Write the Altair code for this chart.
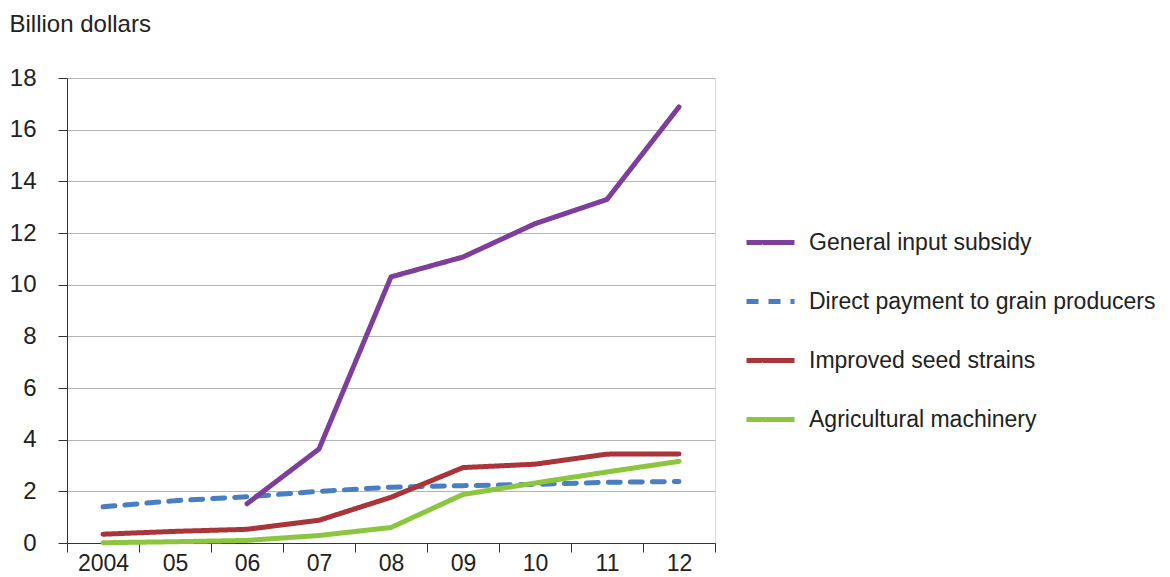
import altair as alt
import pandas as pd

years = ["2004", "05", "06", "07", "08", "09", "10", "11", "12"]
series_names = [
    "General input subsidy",
    "Direct payment to grain producers",
    "Improved seed strains",
    "Agricultural machinery",
]
general_input = [None, None, 1.52, 3.64, 10.30, 11.07, 12.36, 13.30, 16.88]
direct_payment = [1.40, 1.64, 1.79, 2.00, 2.16, 2.22, 2.27, 2.35, 2.38]
improved_seed = [0.34, 0.45, 0.53, 0.88, 1.77, 2.92, 3.05, 3.44, 3.45]
machinery = [0.01, 0.05, 0.10, 0.29, 0.60, 1.88, 2.32, 2.75, 3.16]
colors = ["#7D3F9B", "#4A7EC2", "#A9343A", "#8CC63F"]

# draw order: blue first (underneath), then red, green, purple
draw_order = [
    ("Direct payment to grain producers", direct_payment),
    ("Improved seed strains", improved_seed),
    ("Agricultural machinery", machinery),
    ("General input subsidy", general_input),
]
rows = []
for name, vals in draw_order:
    for y, v in zip(years, vals):
        if v is not None:
            rows.append({"year": y, "value": v, "series": name})
df = pd.DataFrame(rows)

FONT = "Liberation Sans"
FS = 24

legend_cfg = dict(
    title=None,
    orient="none",
    legendX=677,
    legendY=138,
    symbolType="stroke",
    symbolSize=2304,
    symbolStrokeWidth=5,
    labelFontSize=23,
    labelFont=FONT,
    labelColor="#222222",
    labelOffset=12,
    rowPadding=20,
    labelLimit=500,
)

chart = alt.Chart(df).mark_line(strokeWidth=5, strokeCap="round", strokeJoin="round").encode(
    x=alt.X(
        "year:N",
        sort=years,
        scale=alt.Scale(domain=years, paddingInner=0, paddingOuter=0),
        axis=alt.Axis(
            title=None,
            labelAngle=0,
            tickBand="extent",
            ticks=True,
            tickSize=9,
            tickColor="#333333",
            domainColor="#333333",
            labelFontSize=23,
            labelColor="#222222",
            labelPadding=0,
            labelFont=FONT,
            grid=False,
        ),
    ),
    y=alt.Y(
        "value:Q",
        scale=alt.Scale(domain=[0, 18], nice=False),
        axis=alt.Axis(
            title="Billion dollars",
            titleAngle=0,
            titleAlign="left",
            titleBaseline="middle",
            titleX=-58,
            titleY=-54,
            titleFont=FONT,
            titleFontSize=FS,
            titleFontWeight="normal",
            titleColor="#222222",
            values=list(range(0, 19, 2)),
            tickSize=9,
            tickColor="#333333",
            domainColor="#333333",
            labelFontSize=FS,
            labelColor="#222222",
            labelPadding=22,
            labelFont=FONT,
            grid=True,
            gridColor="#b5b5b5",
            gridWidth=1,
        ),
    ),
    color=alt.Color(
        "series:N",
        scale=alt.Scale(domain=series_names, range=colors),
        legend=alt.Legend(**legend_cfg),
    ),
    strokeDash=alt.StrokeDash(
        "series:N",
        scale=alt.Scale(domain=series_names, range=[[1, 0], [12, 10], [1, 0], [1, 0]]),
        legend=alt.Legend(**legend_cfg),
    ),
).properties(
    width=648,
    height=465,
    autosize=alt.AutoSizeParams(type="none"),
    padding={"left": 59, "top": 70, "right": 446, "bottom": 40},
).configure_view(stroke=None).configure(font=FONT, background="white")

chart.save("out.html", embed_options={"renderer": "svg", "actions": False})
